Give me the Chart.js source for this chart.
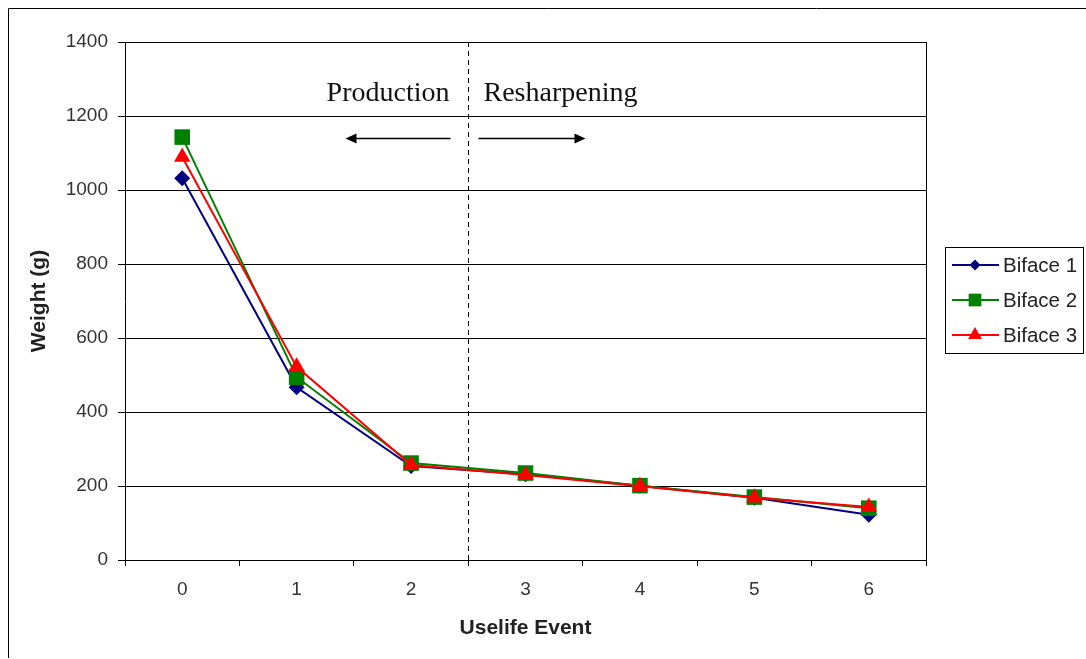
<!DOCTYPE html>
<html>
<head>
<meta charset="utf-8">
<script src="https://cdn.jsdelivr.net/npm/chart.js@4/dist/chart.umd.min.js"></script>
<style>
  body { margin: 0; background: #fff; }
  canvas { display: block; }
</style>
</head>
<body>
<canvas id="bifaceChart" width="1086" height="659"></canvas>
<script>
// data
const events = ['0', '1', '2', '3', '4', '5', '6'];
const biface1 = [1032, 467, 254, 232, 201, 168, 122];
const biface2 = [1143, 494, 262, 235, 201, 170, 140];
const biface3 = [1089, 522, 257, 230, 199, 168, 143];
const seriesNames = ['Biface 1', 'Biface 2', 'Biface 3'];
const phaseNames = ['Production', 'Resharpening'];

const colors = ['#000080', '#008000', '#ff0000'];
const markers = ['rectRot', 'rect', 'triangle'];
const radii = [8, 11, 9.5];
const legendRadii = [5.5, 9, 8];

const sans = "Arial, 'Liberation Sans', sans-serif";

function drawMarker(ctx, style, x, y, r, color) {
  ctx.save();
  ctx.fillStyle = color;
  ctx.beginPath();
  if (style === 'rectRot') {
    ctx.moveTo(x, y - r); ctx.lineTo(x + r, y); ctx.lineTo(x, y + r); ctx.lineTo(x - r, y);
  } else if (style === 'rect') {
    const s = r * Math.SQRT1_2;
    ctx.rect(x - s, y - s, 2 * s, 2 * s);
  } else {
    const h = r * 1.5, w = r * Math.sqrt(3) / 2;
    ctx.moveTo(x, y - h * 2 / 3); ctx.lineTo(x + w, y + h / 3); ctx.lineTo(x - w, y + h / 3);
  }
  ctx.closePath();
  ctx.fill();
  ctx.restore();
}

function arrow(ctx, x1, x2, y) {
  const dir = Math.sign(x2 - x1);
  ctx.beginPath();
  ctx.moveTo(x1, y);
  ctx.lineTo(x2 - dir * 8, y);
  ctx.stroke();
  ctx.beginPath();
  ctx.moveTo(x2, y);
  ctx.lineTo(x2 - dir * 11, y - 5);
  ctx.lineTo(x2 - dir * 11, y + 5);
  ctx.closePath();
  ctx.fill();
}

const decorations = {
  id: 'decorations',
  beforeDatasetsDraw(chart) {
    const { ctx, chartArea, scales } = chart;
    const x = scales.x, y = scales.y;
    const step = x.getPixelForValue(1) - x.getPixelForValue(0);
    const splitX = Math.round(x.getPixelForValue(2) + step / 2) + 0.5;

    ctx.save();
    // plot area right edge
    ctx.strokeStyle = '#000';
    ctx.lineWidth = 1;
    ctx.beginPath();
    ctx.moveTo(Math.round(chartArea.right) + 0.5, chartArea.top);
    ctx.lineTo(Math.round(chartArea.right) + 0.5, chartArea.bottom);
    ctx.stroke();

    // phase divider
    ctx.setLineDash([5, 4]);
    ctx.beginPath();
    ctx.moveTo(splitX, chartArea.top);
    ctx.lineTo(splitX, chartArea.bottom);
    ctx.stroke();
    ctx.setLineDash([]);

    // phase labels
    ctx.fillStyle = '#111';
    ctx.font = "28px 'Liberation Serif', 'Times New Roman', serif";
    ctx.textBaseline = 'alphabetic';
    const textY = y.getPixelForValue(1240);
    ctx.textAlign = 'right';
    ctx.fillText(phaseNames[0], splitX - 19, textY);
    ctx.textAlign = 'left';
    ctx.fillText(phaseNames[1], splitX + 15, textY);

    // arrows
    const arrowY = Math.round(y.getPixelForValue(1140)) + 0.5;
    ctx.lineWidth = 1.5;
    ctx.strokeStyle = '#000';
    ctx.fillStyle = '#000';
    arrow(ctx, splitX - 18, splitX - 123, arrowY);
    arrow(ctx, splitX + 10, splitX + 117, arrowY);
    ctx.restore();
  },
  afterDraw(chart) {
    const { ctx } = chart;
    ctx.save();
    // outer frame
    ctx.strokeStyle = '#000';
    ctx.lineWidth = 1;
    ctx.beginPath();
    ctx.moveTo(8.5, 658);
    ctx.lineTo(8.5, 8.5);
    ctx.lineTo(1086, 8.5);
    ctx.stroke();

    // legend
    ctx.strokeStyle = '#000';
    ctx.strokeRect(945.5, 247.5, 138, 106);
    ctx.font = '20.5px ' + sans;
    ctx.textBaseline = 'middle';
    ctx.textAlign = 'left';
    seriesNames.forEach((name, i) => {
      const ly = 265 + i * 35;
      ctx.strokeStyle = colors[i];
      ctx.lineWidth = 2;
      ctx.beginPath();
      ctx.moveTo(952, ly);
      ctx.lineTo(999, ly);
      ctx.stroke();
      drawMarker(ctx, markers[i], 975, ly, legendRadii[i], colors[i]);
      ctx.fillStyle = '#222';
      ctx.fillText(name, 1003, ly + 1);
    });
    ctx.restore();
  }
};

const ctx = document.getElementById('bifaceChart').getContext('2d');

const chart = new Chart(ctx, {
  type: 'line',
  data: {
    labels: events,
    datasets: [biface1, biface2, biface3].map((values, i) => ({
      label: seriesNames[i],
      data: values,
      borderColor: colors[i],
      backgroundColor: colors[i],
      borderWidth: 2,
      pointStyle: markers[i],
      pointRadius: radii[i],
      pointBorderWidth: 0,
      tension: 0,
      order: 2 - i
    }))
  },
  options: {
    responsive: false,
    animation: false,
    events: [],
    layout: { padding: { left: 27, top: 42, right: 160, bottom: 18 } },
    plugins: {
      legend: { display: false },
      tooltip: { enabled: false }
    },
    scales: {
      x: {
        offset: true,
        grid: { offset: true, drawOnChartArea: false, drawTicks: true, tickLength: 6, color: '#000', lineWidth: 1 },
        border: { color: '#000', width: 1 },
        ticks: { color: '#333', padding: 12, maxRotation: 0, font: { family: sans, size: 19 } },
        title: { display: true, text: 'Uselife Event', color: '#222', padding: 0, font: { family: sans, size: 21, weight: 'bold' } },
        afterFit(scale) { scale.height = 81; }
      },
      y: {
        min: 0,
        max: 1400,
        ticks: {
          stepSize: 200,
          color: '#333',
          padding: 10,
          font: { family: sans, size: 19 },
          callback: (v) => String(v)
        },
        grid: { color: '#000', lineWidth: 1, tickLength: 7 },
        border: { color: '#000', width: 1 },
        title: { display: true, text: 'Weight (g)', color: '#222', padding: 0, font: { family: sans, size: 21, weight: 'bold' } },
        afterFit(scale) { scale.width = 98; }
      }
    }
  },
  plugins: [decorations]
});
</script>
</body>
</html>
